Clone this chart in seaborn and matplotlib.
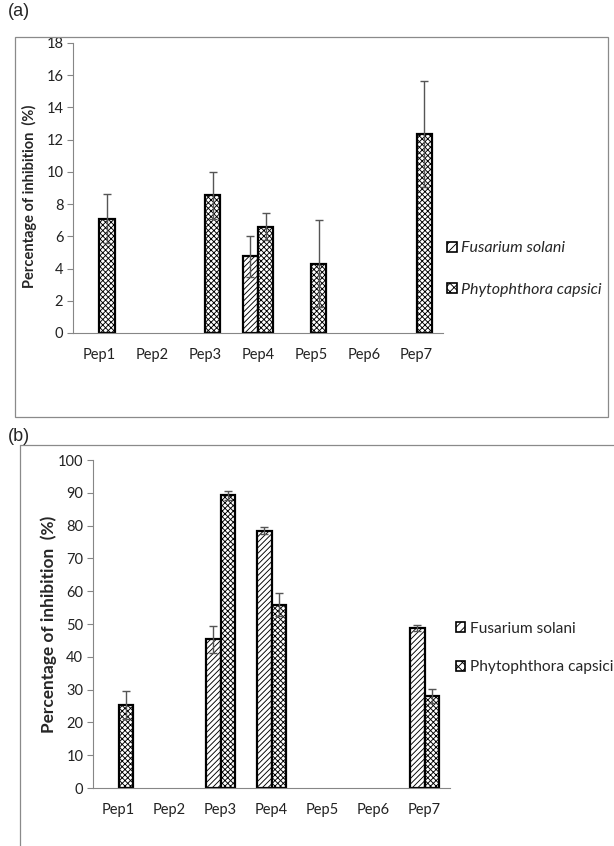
import numpy as np
import pandas as pd
import matplotlib
matplotlib.use("Agg")
import matplotlib.pyplot as plt
from matplotlib.patches import Patch, Rectangle
from matplotlib.lines import Line2D
import seaborn as sns

peps = ["Pep1", "Pep2", "Pep3", "Pep4", "Pep5", "Pep6", "Pep7"]
species = ["Fusarium solani", "Phytophthora capsici"]

# Panel (a)
a_fus = [0, 0, 0, 4.75, 0, 0, 0]
a_fus_err = [0, 0, 0, 1.3, 0, 0, 0]
a_phy = [7.1, 0, 8.55, 6.6, 4.3, 0, 12.35]
a_phy_err = [1.5, 0, 1.45, 0.85, 2.7, 0, 3.3]

# Panel (b)
b_fus = [0, 0, 45.3, 78.5, 0, 0, 48.8]
b_fus_err = [0, 0, 4.2, 1.2, 0, 0, 1.0]
b_phy = [25.3, 0, 89.2, 55.9, 0, 0, 28.0]
b_phy_err = [4.2, 0, 1.3, 3.4, 0, 0, 2.1]

sns.set_style("white")
plt.rcParams["font.family"] = ["Lato", "DejaVu Sans"]
plt.rcParams["hatch.linewidth"] = 0.65

W, H = 614, 846
fig = plt.figure(figsize=(W / 100, H / 100), dpi=100)

hatches = ["//////", "xxxxxx"]
axis_gray = "#868686"


def panel(rect, fus, fus_err, phy, phy_err, ymax, ystep, italic_legend, leg_xy,
          leg_size, leg_spacing, ylab_x, ylab_y, ylab_size):
    ax = fig.add_axes(rect)
    df = pd.DataFrame({
        "pep": peps * 2,
        "species": [species[0]] * 7 + [species[1]] * 7,
        "value": fus + phy,
    })
    sns.barplot(data=df, x="pep", y="value", hue="species", order=peps,
                hue_order=species, width=0.58, errorbar=None,
                palette=["white", "white"], edgecolor="black", linewidth=1.6,
                ax=ax, legend=False)
    errs = [fus_err, phy_err]
    bar_conts = list(ax.containers)
    for ci, cont in enumerate(bar_conts):
        for pi, bar in enumerate(cont.patches):
            bar.set_hatch(hatches[ci])
            h = bar.get_height()
            if h <= 0:
                bar.set_visible(False)
                continue
            e = errs[ci][pi]
            if e > 0:
                cx = bar.get_x() + bar.get_width() / 2
                ax.errorbar(cx, h, yerr=e, fmt="none", ecolor="#555555",
                            elinewidth=1.0, capsize=3, capthick=1.0, zorder=3)
    ax.set_ylim(0, ymax)
    ax.set_xlim(-0.5, 6.5)
    ax.set_yticks(np.arange(0, ymax + 0.01, ystep))
    ax.set_xticks(range(7))
    ax.set_xticklabels(peps)
    ax.set_xticks(np.arange(-0.5, 7, 1), minor=True)
    ax.tick_params(axis="x", which="major", length=0, pad=11, labelsize=10.5, colors="#222222")
    ax.tick_params(axis="x", which="minor", length=5, width=0.8, color=axis_gray, direction="out")
    ax.tick_params(axis="y", length=4, width=0.8, color=axis_gray, direction="out",
                   labelsize=10.5, pad=3, left=True, labelcolor="#222222")
    ax.set_xlabel("")
    ax.set_ylabel("Percentage of inhibition  (%)", fontsize=ylab_size, fontweight="bold")
    ax.yaxis.set_label_coords(ylab_x, ylab_y)
    for s in ["top", "right"]:
        ax.spines[s].set_visible(False)
    for s in ["left", "bottom"]:
        ax.spines[s].set_color(axis_gray)
        ax.spines[s].set_linewidth(0.8)
    handles = [Patch(facecolor="white", edgecolor="black", hatch="////", linewidth=1.2),
               Patch(facecolor="white", edgecolor="black", hatch="xxxx", linewidth=1.2)]
    fig.legend(handles, species, loc="center left",
               bbox_to_anchor=leg_xy, frameon=False,
               borderpad=0, borderaxespad=0,
               handlelength=0.6, handleheight=0.6, handletextpad=0.3,
               labelspacing=leg_spacing,
               prop={"style": "italic" if italic_legend else "normal", "size": leg_size})
    return ax


panel([73 / W, 1 - 333 / H, 370 / W, 290 / H], a_fus, a_fus_err, a_phy, a_phy_err,
      18, 2, True, (447 / W, 1 - 269 / H), 11.5, 1.7, -0.097, 0.472, 10.5)
panel([93 / W, 1 - 788 / H, 357 / W, 328 / H], b_fus, b_fus_err, b_phy, b_phy_err,
      100, 10, False, (456 / W, 1 - 648 / H), 11.2, 1.6, -0.10, 0.5, 12.4)

# panel frames
fig.add_artist(Rectangle((15 / W, 1 - 417 / H), 593 / W, 380 / H, transform=fig.transFigure,
                         fill=False, edgecolor="#8a8a8a", linewidth=0.9))
fig.add_artist(Line2D([20 / W, 1.0], [1 - 445 / H, 1 - 445 / H], transform=fig.transFigure,
                      color="#8a8a8a", linewidth=0.9))
fig.add_artist(Line2D([20 / W, 20 / W], [1 - 445 / H, 0.0], transform=fig.transFigure,
                      color="#8a8a8a", linewidth=0.9))

fig.text(8 / W, 1 - 12 / H, "(a)", fontsize=13, family=["Liberation Sans"], va="center", ha="left")
fig.text(8 / W, 1 - 436 / H, "(b)", fontsize=13, family=["Liberation Sans"], va="center", ha="left")

fig.savefig("out.png", dpi=100, facecolor="white")
